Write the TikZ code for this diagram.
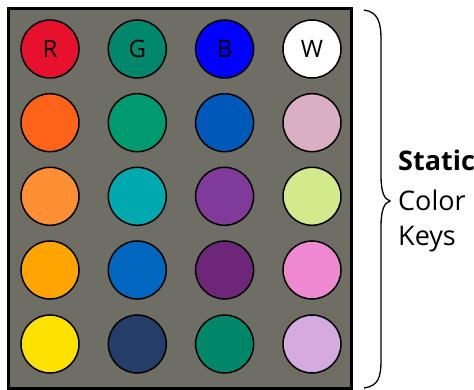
\documentclass[tikz,border=0pt]{standalone}
\usepackage{fontspec}
\setmainfont{Open Sans}
\definecolor{bgG}{HTML}{6E6E64}
\definecolor{c11}{HTML}{E8112D}\definecolor{c12}{HTML}{00876C}\definecolor{c13}{HTML}{0000FF}\definecolor{c14}{HTML}{FFFFFF}
\definecolor{c21}{HTML}{FF6319}\definecolor{c22}{HTML}{009A70}\definecolor{c23}{HTML}{0058B8}\definecolor{c24}{HTML}{DAAFC3}
\definecolor{c31}{HTML}{FF8F35}\definecolor{c32}{HTML}{00A8B0}\definecolor{c33}{HTML}{803A9A}\definecolor{c34}{HTML}{D1EA8C}
\definecolor{c41}{HTML}{FFA400}\definecolor{c42}{HTML}{0066BF}\definecolor{c43}{HTML}{6D2678}\definecolor{c44}{HTML}{EE88D0}
\definecolor{c51}{HTML}{FFE100}\definecolor{c52}{HTML}{243D69}\definecolor{c53}{HTML}{008669}\definecolor{c54}{HTML}{D4AAE0}
\begin{document}
\begin{tikzpicture}[x=1pt,y=-1pt,
  key/.style={circle,draw=black,line width=1.5pt,minimum size=58pt,inner sep=0pt},
  keytxt/.style={inner sep=0pt,font=\fontsize{24}{24}\selectfont},
  lbl/.style={anchor=west,inner sep=0pt,font=\fontsize{27}{27}\selectfont}]
\useasboundingbox (0,0) rectangle (474,390);
\node[draw=black,fill=bgG,line width=3pt,minimum width=343pt,minimum height=380pt,inner sep=0pt] (panel) at (179.75,198.5) {};
\foreach \r/\y in {1/49,2/122.7,3/196.3,4/270,5/344}{
  \foreach \c/\x in {1/50,2/137.3,3/224.6,4/312}{
    \node[key,fill=c\r\c] (k\r\c) at (\x,\y) {};
  }
}
\node[keytxt] (lR) at (k11) {R};
\node[keytxt] (lG) at (k12) {G};
\node[keytxt] (lB) at (k13) {B};
\node[keytxt] (lW) at (k14) {W};
\draw[line width=1.3pt] (364,10) .. controls (378,12) and (381,22) .. (381,40) -- (381,175)
  .. controls (381,192) and (384,199) .. (390,201)
  .. controls (384,203) and (381,210) .. (381,227) -- (381,360)
  .. controls (381,378) and (378,386) .. (364,388);
\node[lbl,font=\fontsize{27}{27}\selectfont\bfseries] (t1) at (398,160) {Static};
\node[lbl] (t2) at (398,200) {Color};
\node[lbl] (t3) at (398,239) {Keys};
\end{tikzpicture}
\end{document}
